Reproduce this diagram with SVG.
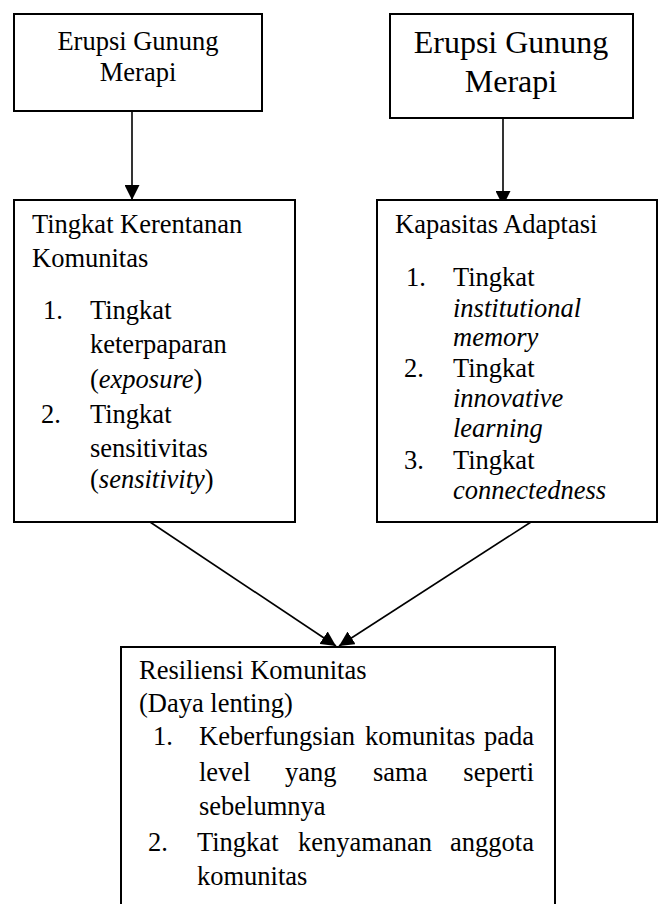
<svg xmlns="http://www.w3.org/2000/svg" width="662" height="904" viewBox="0 0 662 904">
<style>
.box{fill:#fff;stroke:#000;stroke-width:2}
.t{font-family:"Liberation Serif","Times New Roman",serif;font-size:26.5px;fill:#000}
.big{font-size:32px}
.i{font-style:italic}
.c{text-anchor:middle}
.e{text-anchor:end}
.ln{stroke:#000;stroke-width:1.6;fill:none;marker-end:url(#ah)}
</style>
<defs>
<marker id="ah" markerUnits="userSpaceOnUse" markerWidth="15" markerHeight="15" refX="15" refY="7.5" orient="auto" viewBox="0 0 15 15">
<path d="M0,0 L15,7.5 L0,15 z" fill="#000"/>
</marker>
</defs>
<rect width="662" height="904" fill="#fff"/>
<g id="connectors">
<line class="ln" x1="132" y1="111" x2="132" y2="200"/>
<line class="ln" x1="503" y1="118" x2="503" y2="206"/>
<line class="ln" x1="150" y1="522" x2="336" y2="646"/>
<line class="ln" x1="531" y1="522" x2="339" y2="646"/>
</g>
<g id="erupsi-left">
<rect class="box" x="14" y="14" width="248" height="97"/>
<text class="t c" x="138" y="50">Erupsi Gunung</text>
<text class="t c" x="138" y="81">Merapi</text>
</g>
<g id="erupsi-right">
<rect class="box" x="390" y="14" width="243" height="104"/>
<text class="t big c" x="511" y="53">Erupsi Gunung</text>
<text class="t big c" x="511" y="92">Merapi</text>
</g>
<g id="kerentanan">
<rect class="box" x="14" y="200" width="281" height="322"/>
<text class="t" x="32" y="233">Tingkat Kerentanan</text>
<text class="t" x="32" y="267">Komunitas</text>
<text class="t" x="43" y="319">1.</text>
<text class="t" x="90" y="319">Tingkat</text>
<text class="t" x="90" y="353">keterpaparan</text>
<text class="t" x="90" y="388">(<tspan class="i">exposure</tspan>)</text>
<text class="t" x="41" y="423">2.</text>
<text class="t" x="90" y="423">Tingkat</text>
<text class="t" x="90" y="457">sensitivitas</text>
<text class="t" x="90" y="488">(<tspan class="i">sensitivity</tspan>)</text>
</g>
<g id="kapasitas">
<rect class="box" x="377" y="200" width="280" height="322"/>
<text class="t" x="395" y="233">Kapasitas Adaptasi</text>
<text class="t" x="406" y="286">1.</text>
<text class="t" x="453" y="286">Tingkat</text>
<text class="t i" x="453" y="317">institutional</text>
<text class="t i" x="453" y="346">memory</text>
<text class="t" x="404" y="377">2.</text>
<text class="t" x="453" y="377">Tingkat</text>
<text class="t i" x="453" y="407">innovative</text>
<text class="t i" x="453" y="437">learning</text>
<text class="t" x="404" y="469">3.</text>
<text class="t" x="453" y="469">Tingkat</text>
<text class="t i" x="453" y="499">connectedness</text>
</g>
<g id="resiliensi">
<rect class="box" x="121" y="647" width="434" height="270"/>
<text class="t" x="139" y="679">Resiliensi Komunitas</text>
<text class="t" x="139" y="712">(Daya lenting)</text>
<text class="t" x="153" y="745">1.</text>
<text class="t" x="199" y="745">Keberfungsian</text>
<text class="t" x="365" y="745">komunitas</text>
<text class="t e" x="534" y="745">pada</text>
<text class="t" x="199" y="781">level</text>
<text class="t" x="285" y="781">yang</text>
<text class="t" x="373" y="781">sama</text>
<text class="t e" x="534" y="781">seperti</text>
<text class="t" x="199" y="815">sebelumnya</text>
<text class="t" x="148" y="851">2.</text>
<text class="t" x="197" y="851">Tingkat</text>
<text class="t" x="298" y="851">kenyamanan</text>
<text class="t e" x="534" y="851">anggota</text>
<text class="t" x="197" y="885">komunitas</text>
</g>
</svg>
